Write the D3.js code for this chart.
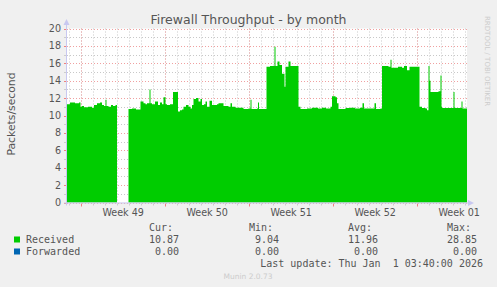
<!DOCTYPE html>
<html><head><meta charset="utf-8">
<script src="https://cdn.jsdelivr.net/npm/d3@7"></script>
<style>
html,body{margin:0;padding:0;background:#f0f0f0;}
svg{display:block;}
text{font-family:"DejaVu Sans",sans-serif;}
.mono{font-family:"DejaVu Sans Mono",monospace;white-space:pre;}
</style>
</head><body><svg id="c" width="497" height="287"></svg>
<script>
// ---- data ----
const chartTitle = "Firewall Throughput - by month";
const yLabel = "Packets/second";
const startTime = Date.UTC(2025, 10, 28, 19, 40);   // left edge of graph
const endTime = Date.UTC(2026, 0, 1, 3, 40);        // last update
const yTicks = [0,2,4,6,8,10,12,14,16,18,20];
const sampleHours = [0,6,16,24,27,30,34,42,50,54,60,66,70,74,77,79,83,88,92,97,100,101,
  123,130,138,147,153,157,160,165,167,170,176,182,186,190,193,197,200,206,212,222,226,230,233,238,243,247,250,253,258,263,267,270,274,277,280,285,290,300,303,310,313,323,327,330,337,350,353,363,367,369,380,382,384,
  399,406,415,417,421,425,430,435,437,443,447,460,463,467,480,490,502,510,518,527,530,537,540,543,557,566,576,586,591,594,610,615,618,627,
  630,643,647,649,654,662,670,674,680,685,703,705,710,717,720,723,725,727,743,747,749,750,770,773,775,777,787,789,791,800];
const receivedValues = [11.3,11.5,11.4,11.5,11.0,11.1,10.95,11.0,10.9,11.2,11.4,11.5,11.2,11.1,11.8,11.1,11.0,11.2,11.1,11.2,11.2,null,
  10.75,10.8,10.7,11.6,11.4,11.3,11.4,13.0,11.4,11.3,11.6,11.2,11.5,11.3,12.1,11.3,11.2,11.3,12.7,10.45,10.6,10.7,11.0,11.2,11.0,10.8,11.2,11.9,12.0,11.6,11.9,11.2,11.3,11.6,11.0,11.7,11.2,11.3,11.4,11.4,11.1,11.0,11.4,11.0,10.9,10.9,10.75,10.8,11.8,10.75,10.8,11.5,10.75,
  15.6,15.7,17.9,15.7,16.2,15.8,14.8,13.3,15.6,16.2,15.7,15.7,11.0,10.75,10.8,10.9,10.8,10.9,10.8,11.0,12.2,12.1,11.4,10.75,10.85,10.9,10.8,10.9,11.4,10.8,10.8,11.4,10.75,10.8,
  15.7,15.6,16.4,15.5,15.5,15.6,15.5,15.7,15.2,15.6,15.6,11.0,10.85,10.8,10.6,15.7,14.0,12.7,12.8,14.6,11.0,10.85,10.85,12.7,10.9,10.85,10.85,11.6,10.8,10.87];
const forwardedHours = [0,800];
const forwardedValues = [0,0];
const seriesNames = ["Received","Forwarded"];
const seriesColors = ["#00CC00","#0066B3"];
const statHeaders = ["Cur:","Min:","Avg:","Max:"];
const receivedStats = ["10.87","9.04","11.96","28.85"];
const forwardedStats = ["0.00","0.00","0.00","0.00"];
const lastUpdate = "Last update: Thu Jan  1 03:40:00 2026";
const footer = "Munin 2.0.73";
const watermark = "RRDTOOL / TOBI OETIKER";

// ---- drawing ----
const svg = d3.select("#c");
const L = 67, R = 467, T = 28.5, B = 202.5;
const x = d3.scaleUtc().domain([new Date(startTime), new Date(endTime)]).range([L, R]);
const y = d3.scaleLinear().domain([0, 20]).range([B, T]);
const H = 3600e3;

svg.append("rect").attr("width",497).attr("height",287).attr("fill","#f0f0f0");
svg.append("rect").attr("x",L).attr("y",T).attr("width",R-L).attr("height",B-T).attr("fill","#ffffff");

// minor grid (days, odd values)
const days = d3.utcDay.range(new Date(startTime), new Date(endTime));
const weeks = d3.utcSunday.range(new Date(startTime), new Date(endTime));
const g = svg.append("g");
days.forEach(d => {
  const xx = Math.round(x(d)) + 0.5;
  g.append("line").attr("x1",xx).attr("x2",xx).attr("y1",T).attr("y2",B)
   .attr("stroke","#c8c8c8").attr("stroke-dasharray","1,2");
  g.append("line").attr("x1",xx).attr("x2",xx).attr("y1",B+1).attr("y2",B+3).attr("stroke","#cccccc");
});
d3.range(1,20,2).forEach(v => {
  const yy = Math.round(y(v)) + 0.5;
  g.append("line").attr("x1",L).attr("x2",R).attr("y1",yy).attr("y2",yy)
   .attr("stroke","#c8c8c8").attr("stroke-dasharray","1,2");
  g.append("line").attr("x1",L-3).attr("x2",L-1).attr("y1",yy).attr("y2",yy).attr("stroke","#cccccc");
});
// major grid
weeks.forEach(d => {
  const xx = Math.round(x(d)) + 0.5;
  g.append("line").attr("x1",xx).attr("x2",xx).attr("y1",T).attr("y2",B)
   .attr("stroke","#f0a0a0").attr("stroke-dasharray","1,2");
  g.append("line").attr("x1",xx).attr("x2",xx).attr("y1",B+1).attr("y2",B+4).attr("stroke","#f08080");
});
yTicks.forEach(v => {
  const yy = Math.round(y(v)) + 0.5;
  g.append("line").attr("x1",L).attr("x2",R).attr("y1",yy).attr("y2",yy)
   .attr("stroke","#f0a0a0").attr("stroke-dasharray","1,2");
  g.append("line").attr("x1",L-3).attr("x2",L-1).attr("y1",yy).attr("y2",yy).attr("stroke","#f08080");
});

// area
const recData = sampleHours.map((h,i) => ({t: new Date(startTime + h*H), v: receivedValues[i]}));
const area = d3.area().defined(d => d.v !== null)
  .x(d => x(d.t)).y0(y(0)).y1(d => y(Math.min(d.v,20)))
  .curve(d3.curveStepAfter);
svg.append("path").datum(recData).attr("d", area).attr("fill", seriesColors[0]);
const fwdData = forwardedHours.map((h,i) => ({t: new Date(startTime + h*H), v: forwardedValues[i]}));
svg.append("path").datum(fwdData).attr("d", area).attr("fill", seriesColors[1]);

// axes lines + arrows
const axc = "#c8c8f0";
svg.append("line").attr("x1",L-0.5).attr("x2",L-0.5).attr("y1",22).attr("y2",B+3).attr("stroke",axc);
svg.append("line").attr("x1",L-3).attr("x2",R+4).attr("y1",B+0.5).attr("y2",B+0.5).attr("stroke",axc);
svg.append("path").attr("d",`M${L-0.5},19 L${L-3.5},25 L${L+2.5},25 Z`).attr("fill",axc);
svg.append("path").attr("d",`M${R+7},${B+0.5} L${R+1},${B-2.5} L${R+1},${B+3.5} Z`).attr("fill",axc);

// y labels
const txt = "#555555";
yTicks.forEach(v => {
  svg.append("text").attr("x",61).attr("y",y(v)+3.5).attr("text-anchor","end")
    .attr("font-size","9.6px").attr("fill",txt).text(v);
});
// x labels
const fmt = d3.utcFormat("Week %V");
weeks.forEach(d => {
  const mid = new Date(+d + 3.5*24*H);
  svg.append("text").attr("x",x(mid)).attr("y",215.5).attr("text-anchor","middle")
    .attr("font-size","9.6px").attr("fill",txt).text(fmt(mid));
});

// title, y label
svg.append("text").attr("x",248.5).attr("y",24).attr("text-anchor","middle")
  .attr("font-size","12.5px").attr("fill",txt).text(chartTitle);
svg.append("text").attr("transform","translate(14.5,114) rotate(-90)").attr("text-anchor","middle")
  .attr("font-size","10.8px").attr("fill",txt).text(yLabel);
svg.append("text").attr("transform","translate(485,16) rotate(90)").attr("text-anchor","start")
  .attr("font-size","7px").attr("fill","#cccccc").text(watermark);

// legend
const colX = [149,249,348,447];
const valEnd = [179,279,378,477];
statHeaders.forEach((s,i) => {
  svg.append("text").attr("class","mono").attr("x",colX[i]).attr("y",230.5)
    .attr("font-size","10px").attr("fill",txt).text(s);
});
[receivedStats, forwardedStats].forEach((row, r) => {
  const yy = 243 + r*12;
  svg.append("rect").attr("x",14).attr("y",yy-6.5).attr("width",6).attr("height",6).attr("fill",seriesColors[r]);
  svg.append("text").attr("class","mono").attr("x",26).attr("y",yy)
    .attr("font-size","10px").attr("fill",txt).text(seriesNames[r]);
  row.forEach((v,i) => {
    svg.append("text").attr("class","mono").attr("x",valEnd[i]).attr("y",yy).attr("text-anchor","end")
      .attr("font-size","10px").attr("fill",txt).text(v);
  });
});
svg.append("text").attr("class","mono").attr("x",483).attr("y",266.5).attr("text-anchor","end")
  .attr("font-size","10px").attr("fill",txt).text(lastUpdate);
svg.append("text").attr("x",248).attr("y",279).attr("text-anchor","middle")
  .attr("font-size","7.5px").attr("fill","#cccccc").text(footer);
</script></body></html>
